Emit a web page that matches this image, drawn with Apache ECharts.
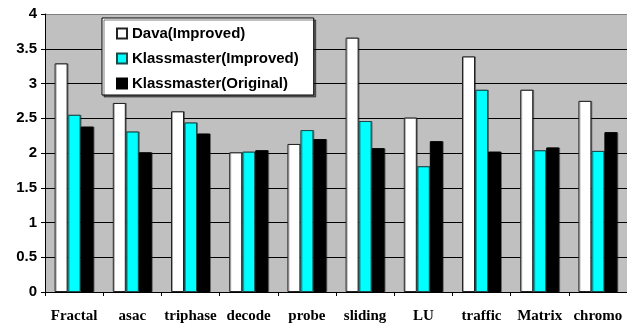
<!DOCTYPE html>
<html>
<head>
<meta charset="utf-8">
<script src="https://cdn.jsdelivr.net/npm/echarts@6/dist/echarts.min.js"></script>
<style>html,body{margin:0;padding:0;background:#fff;}#c{width:627px;height:324px;}</style>
</head>
<body>
<div id="c"></div>
<script>
const categories = ['Fractal','asac','triphase','decode','probe','sliding','LU','traffic','Matrix','chromo'];
const davaImproved = [3.29, 2.72, 2.60, 2.01, 2.13, 3.66, 2.51, 3.39, 2.91, 2.75];
const klassImproved = [2.55, 2.31, 2.44, 2.02, 2.33, 2.46, 1.81, 2.91, 2.04, 2.03];
const klassOriginal = [2.38, 2.01, 2.28, 2.04, 2.20, 2.07, 2.17, 2.02, 2.08, 2.30];
const seriesNames = ['Dava(Improved)','Klassmaster(Improved)','Klassmaster(Original)'];
const yTicks = ['0','0.5','1','1.5','2','2.5','3','3.5','4'];

const chart = echarts.init(document.getElementById('c'), null, {renderer:'canvas'});
const shadow = {shadowColor:'rgba(0,0,0,0.35)', shadowBlur:0, shadowOffsetX:1, shadowOffsetY:0};
chart.setOption({
  animation:false,
  backgroundColor:'#ffffff',
  grid:{left:45, top:14, width:585, bottom:31, show:true, backgroundColor:'#C0C0C0', borderColor:'#808080', borderWidth:0},
  legend:{
    orient:'vertical', left:102, top:18,
    padding:[8,15,4,14],
    backgroundColor:'#ffffff', borderColor:'#000', borderWidth:1,
    shadowColor:'rgba(0,0,0,0.5)', shadowOffsetX:2, shadowOffsetY:2, shadowBlur:0,
    itemWidth:10, itemHeight:10, itemGap:10,
    icon:'rect',
    textStyle:{fontFamily:'Liberation Sans, Arial', fontWeight:'bold', fontSize:15, color:'#000', lineHeight:15},
    data:seriesNames
  },
  xAxis:{
    type:'category', data:categories,
    axisLine:{lineStyle:{color:'#000', width:1}},
    axisTick:{show:true, alignWithLabel:false, length:4, lineStyle:{color:'#000'}},
    axisLabel:{interval:0, margin:17, fontFamily:'Liberation Serif, Times New Roman', fontWeight:'bold', fontSize:15, color:'#000'}
  },
  yAxis:{
    type:'value', min:0, max:4, interval:0.5,
    axisLine:{show:true, lineStyle:{color:'#000'}},
    axisTick:{show:true, length:4, lineStyle:{color:'#000'}},
    axisLabel:{margin:8, fontFamily:'Liberation Sans, Arial', fontWeight:'bold', fontSize:15, color:'#000',
      formatter:function(v){ const i = Math.round(v/0.5); return yTicks[i]; }},
    splitLine:{show:true, lineStyle:{color:['#000','#000','#000','#000','#000','#000','#000','#000','#808080'], width:1}}
  },
  series:[
    {name:seriesNames[0], type:'bar', data:davaImproved, barWidth:13, barGap:'0%', barCategoryGap:'32%',
     itemStyle:Object.assign({color:'#ffffff', borderColor:'#222', borderWidth:1}, shadow)},
    {name:seriesNames[1], type:'bar', data:klassImproved, barWidth:13, barGap:'0%',
     itemStyle:Object.assign({color:'#00FFFF', borderColor:'#1a4a4a', borderWidth:1}, shadow)},
    {name:seriesNames[2], type:'bar', data:klassOriginal, barWidth:13, barGap:'0%',
     itemStyle:Object.assign({color:'#000000', borderColor:'#000', borderWidth:1}, shadow)}
  ]
});
</script>
</body>
</html>
